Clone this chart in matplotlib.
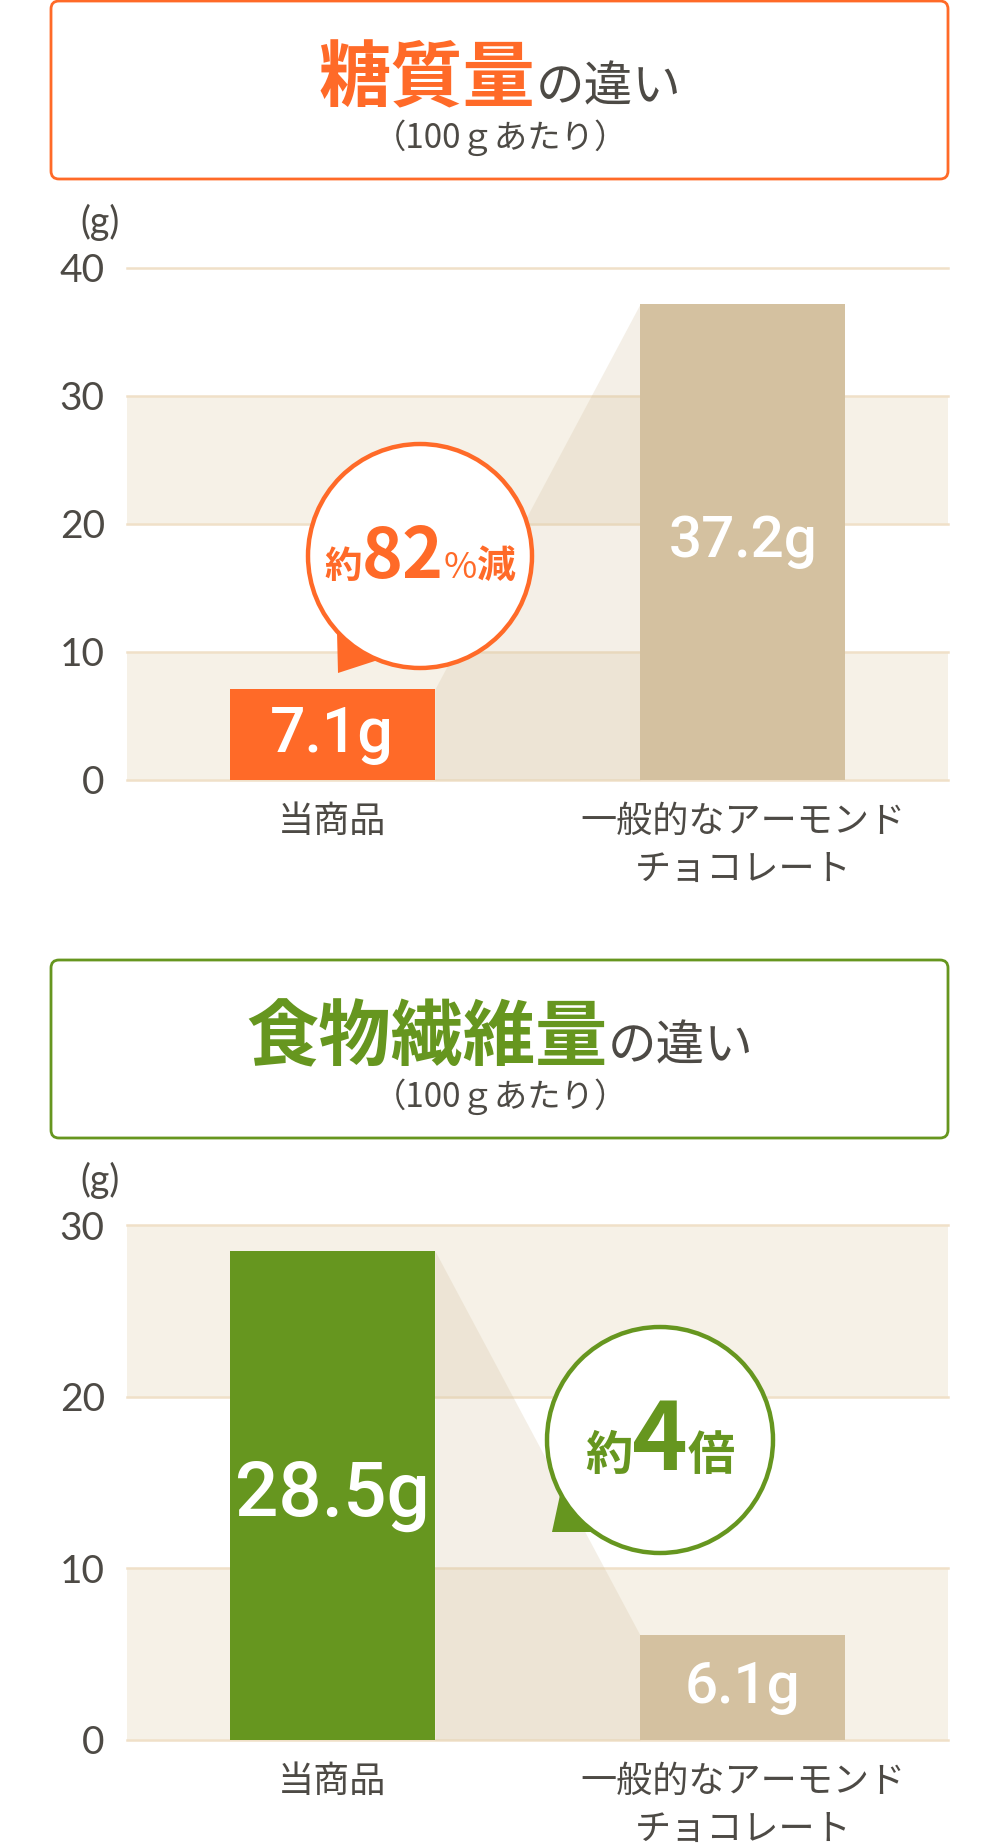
import matplotlib
matplotlib.use("Agg")
import matplotlib.pyplot as plt
from matplotlib.patches import FancyBboxPatch, Circle, Polygon

plt.rcParams['font.family'] = ['Noto Sans CJK JP', 'DejaVu Sans']

# data
categories = ["当商品", "一般的なアーモンド\nチョコレート"]
sugar_values = [7.1, 37.2]
fiber_values = [28.5, 6.1]
sugar_ticks = [0, 10, 20, 30, 40]
fiber_ticks = [0, 10, 20, 30]

ORANGE = "#FF6A28"
GREEN = "#66961F"
TAN = "#D4C1A0"
BAND = "#F6F1E7"
GRID = "#F0E0C8"
TEXT = "#4D4A45"
NUM_FONT = ['Roboto', 'DejaVu Sans']
THIN_FONT = ['Lato', 'Noto Sans CJK JP', 'DejaVu Sans']

W, H = 1000, 1847
fig = plt.figure(figsize=(W / 100, H / 100), dpi=100)


def axes_box(left, top, right, bottom):
    return [left / W, 1 - bottom / H, (right - left) / W, (bottom - top) / H]


ax1 = fig.add_axes(axes_box(127, 268, 948, 780))
ax2 = fig.add_axes(axes_box(127, 1225, 948, 1740))

over = fig.add_axes([0, 0, 1, 1], zorder=5)
over.set_xlim(0, W)
over.set_ylim(H, 0)
over.axis("off")
over.patch.set_alpha(0)


def draw_chart(ax, values, ticks, color, label_sizes):
    ymax = ticks[-1]
    ax.set_xlim(0, 2)
    ax.set_ylim(0, ymax)
    for lo in ticks[:-1]:
        if lo % 20 == 0:
            ax.axhspan(lo, lo + 10, color=BAND, lw=0, zorder=0)
    for t in ticks:
        ax.axhline(t, color=GRID, lw=1.8, zorder=1, clip_on=False)
    xs = [0.5, 1.5]
    ax.bar(xs, values, width=0.5, color=[color, TAN], zorder=3)
    ax.fill_between([0.75, 1.25], [values[0], values[1]], 0,
                    color=TAN, alpha=0.25, lw=0, zorder=2)
    for x, v, s in zip(xs, values, label_sizes):
        ax.text(x, v / 2, f"{v}g", ha="center", va="center", color="white",
                fontsize=s, fontweight="medium", family=NUM_FONT, zorder=4)
    ax.set_yticks(ticks)
    ax.set_yticklabels([str(t) for t in ticks], fontsize=28, color=TEXT,
                       family=THIN_FONT)
    ax.set_xticks(xs)
    ax.set_xticklabels(categories, fontsize=26, color=TEXT, linespacing=1.45,
                       va="top")
    ax.tick_params(length=0)
    ax.tick_params(axis="y", pad=16)
    ax.tick_params(axis="x", pad=17)
    for sp in ax.spines.values():
        sp.set_visible(False)
    ax.patch.set_alpha(0)


draw_chart(ax1, sugar_values, sugar_ticks, ORANGE, [45, 42])
draw_chart(ax2, fiber_values, fiber_ticks, GREEN, [55, 42])

renderer = fig.canvas.get_renderer()


def rich(xc, yb, parts):
    items = []
    total = 0
    for s, size, weight, col in parts:
        t = over.text(0, yb, s, fontsize=size, fontweight=weight, color=col,
                      ha="left", va="baseline")
        w = t.get_window_extent(renderer).width
        items.append((t, w))
        total += w
    x = xc - total / 2
    for t, w in items:
        t.set_x(x)
        x += w


def header(top, bottom, color, big):
    box = FancyBboxPatch((51, top), 897, bottom - top,
                         boxstyle="round,pad=0,rounding_size=8",
                         fc="white", ec=color, lw=2)
    over.add_patch(box)
    rich(500, top + 100, [(big, 52, "bold", color), ("の違い", 35, "normal", TEXT)])
    over.text(500, top + 137, "（100ｇあたり）", fontsize=24, color=TEXT,
              ha="center", va="center")


def callout(cx, cy, r, tail, color, parts, base):
    over.add_patch(Polygon(tail, closed=True, fc=color, ec="none"))
    over.add_patch(Circle((cx, cy), r, fc="white", ec=color, lw=3.2))
    rich(cx, base, parts)


header(1, 179, ORANGE, "糖質量")
header(960, 1138, GREEN, "食物繊維量")

for yy in (222, 1180):
    over.text(100, yy, "(g)", fontsize=27, color=TEXT, ha="center", va="center",
              family=THIN_FONT)

callout(420, 556, 112, [(337, 632), (338, 673), (378, 660)], ORANGE,
        [("約", 27, "bold", ORANGE), ("82", 50, "bold", ORANGE),
         ("%", 26, "normal", ORANGE), ("減", 28, "bold", ORANGE)], 578)
callout(660, 1440, 113, [(560, 1495), (552, 1532), (595, 1532)], GREEN,
        [("約", 34, "bold", GREEN), ("4", 68, "bold", GREEN),
         ("倍", 34, "bold", GREEN)], 1470)

fig.savefig("out.png", dpi=100)
